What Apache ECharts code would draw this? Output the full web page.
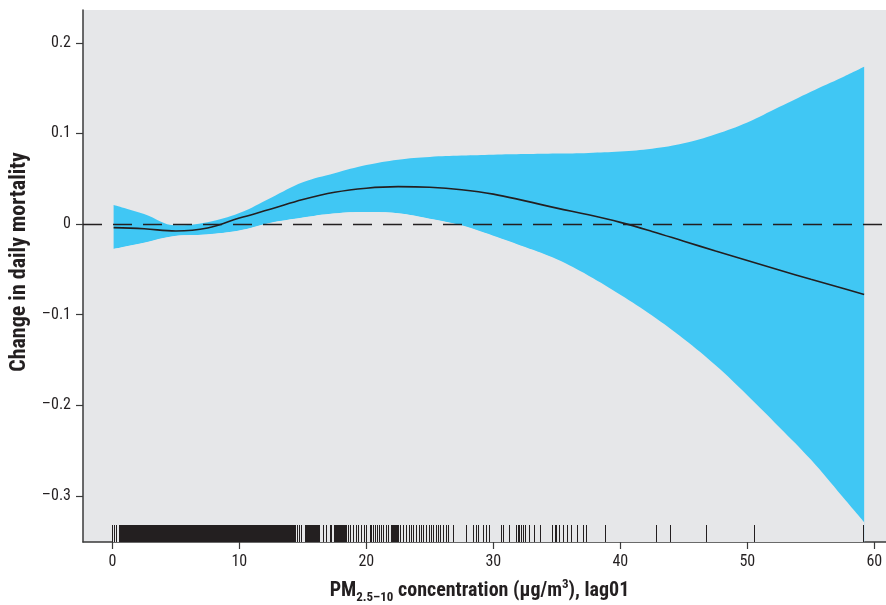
<!DOCTYPE html>
<html>
<head>
<meta charset="utf-8">
<script src="https://cdn.jsdelivr.net/npm/echarts@6/dist/echarts.min.js"></script>
<style>
html,body{margin:0;padding:0;background:#fff;}
#chart{width:886px;height:605px;}
</style>
</head>
<body>
<div id="chart"></div>
<script>
// PM2.5-10 concentration grid (x)
const concentration = [0.1, 2.5, 5, 7.5, 10, 12.5, 15, 17.5, 20, 22.5, 25, 27.5, 30, 32.5, 35, 37.5, 40, 42.5, 45, 47.5, 50, 52.5, 55, 57.5, 59.2];
// fitted change in daily mortality
const fitValues = [-0.004, -0.0053, -0.0078, -0.0045, 0.0065, 0.0165, 0.027, 0.035, 0.0395, 0.0412, 0.0405, 0.0378, 0.033, 0.0255, 0.0175, 0.0102, 0.0018, -0.0082, -0.019, -0.0298, -0.0404, -0.0508, -0.061, -0.071, -0.0778];
// upper confidence bound
const upperValues = [0.021, 0.011, -0.0015, 0.002, 0.012, 0.029, 0.046, 0.056, 0.065, 0.071, 0.074, 0.0755, 0.0765, 0.0772, 0.0778, 0.0785, 0.080, 0.083, 0.089, 0.099, 0.112, 0.129, 0.146, 0.162, 0.1735];
// lower confidence bound
const lowerValues = [-0.0278, -0.021, -0.0132, -0.0115, -0.0075, 0.001, 0.0068, 0.0115, 0.0132, 0.0118, 0.0058, -0.0015, -0.013, -0.0255, -0.039, -0.057, -0.078, -0.101, -0.127, -0.156, -0.189, -0.224, -0.26, -0.301, -0.329];
// observed concentrations (rug)
const rugValues = [0.0, 0.16, 0.35,
 0.6, 0.65, 0.7, 0.75, 0.8, 0.85, 0.9, 0.95,
 1.0, 1.05, 1.1, 1.15, 1.2, 1.25, 1.3, 1.35, 1.4, 1.45, 1.5, 1.55, 1.6, 1.65, 1.7, 1.75, 1.8, 1.85, 1.9, 1.95,
 2.0, 2.05, 2.1, 2.15, 2.2, 2.25, 2.3, 2.35, 2.4, 2.45, 2.5, 2.55, 2.6, 2.65, 2.7, 2.75, 2.8, 2.85, 2.9, 2.95,
 3.0, 3.05, 3.1, 3.15, 3.2, 3.25, 3.3, 3.35, 3.4, 3.45, 3.5, 3.55, 3.6, 3.65, 3.7, 3.75, 3.8, 3.85, 3.9, 3.95,
 4.0, 4.05, 4.1, 4.15, 4.2, 4.25, 4.3, 4.35, 4.4, 4.45, 4.5, 4.55, 4.6, 4.65, 4.7, 4.75, 4.8, 4.85, 4.9, 4.95,
 5.0, 5.05, 5.1, 5.15, 5.2, 5.25, 5.3, 5.35, 5.4, 5.45, 5.5, 5.55, 5.6, 5.65, 5.7, 5.75, 5.8, 5.85, 5.9, 5.95,
 6.0, 6.05, 6.1, 6.15, 6.2, 6.25, 6.3, 6.35, 6.4, 6.45, 6.5, 6.55, 6.6, 6.65, 6.7, 6.75, 6.8, 6.85, 6.9, 6.95,
 7.0, 7.05, 7.1, 7.15, 7.2, 7.25, 7.3, 7.35, 7.4, 7.45, 7.5, 7.55, 7.6, 7.65, 7.7, 7.75, 7.8, 7.85, 7.9, 7.95,
 8.0, 8.05, 8.1, 8.15, 8.2, 8.25, 8.3, 8.35, 8.4, 8.45, 8.5, 8.55, 8.6, 8.65, 8.7, 8.75, 8.8, 8.85, 8.9, 8.95,
 9.0, 9.05, 9.1, 9.15, 9.2, 9.25, 9.3, 9.35, 9.4, 9.45, 9.5, 9.55, 9.6, 9.65, 9.7, 9.75, 9.8, 9.85, 9.9, 9.95,
 10.0, 10.05, 10.1, 10.15, 10.2, 10.25, 10.3, 10.35, 10.4, 10.45, 10.5, 10.55, 10.6, 10.65, 10.7, 10.75, 10.8, 10.85, 10.9, 10.95,
 11.0, 11.05, 11.1, 11.15, 11.2, 11.25, 11.3, 11.35, 11.4, 11.45, 11.5, 11.55, 11.6, 11.65, 11.7, 11.75, 11.8, 11.85, 11.9, 11.95,
 12.0, 12.05, 12.1, 12.15, 12.2, 12.25, 12.3, 12.35, 12.4, 12.45, 12.5, 12.55, 12.6, 12.65, 12.7, 12.75, 12.8, 12.85, 12.9, 12.95,
 13.0, 13.05, 13.1, 13.15, 13.2, 13.25, 13.3, 13.35, 13.4, 13.45, 13.5, 13.55, 13.6, 13.65, 13.7, 13.75, 13.8, 13.85, 13.9, 13.95,
 14.0, 14.05, 14.1, 14.15, 14.2, 14.25, 14.3, 14.35, 14.4,
 14.57, 14.72, 14.91, 15.2, 15.25, 15.3, 15.35, 15.4, 15.45, 15.5, 15.55, 15.6, 15.65, 15.7, 15.75, 15.8, 15.85, 15.9, 15.95, 16.0, 16.05, 16.1, 16.15, 16.2,
 16.35, 16.6, 16.88, 17.14, 17.27, 17.46, 17.6, 17.65, 17.7, 17.75, 17.8, 17.85, 17.9, 17.95, 18.0, 18.05, 18.1, 18.15, 18.2, 18.25, 18.3, 18.35, 18.4,
 18.58, 18.77, 18.98, 19.24, 19.37, 19.64, 19.82, 20.03, 20.29, 20.43, 20.55, 20.69, 20.87, 21.02, 21.21, 21.34, 21.61, 21.73,
 22.0, 22.05, 22.1, 22.15, 22.2, 22.25, 22.3, 22.35, 22.4, 22.45, 22.5, 22.71, 22.91, 23.18, 23.39, 23.57, 23.7, 23.97, 24.17, 24.36, 24.54, 24.76, 24.96,
 25.15, 25.28, 25.54, 25.67, 25.86, 26.06, 26.28, 26.46, 26.85, 27.85, 28.43, 28.64, 28.82, 29.21, 29.43, 29.69,
 30.66, 30.84, 31.31, 31.84, 31.97, 32.1, 32.24, 32.36, 32.5, 32.83, 33.28, 33.68, 34.68, 34.86, 35.0, 35.25, 35.51, 35.83,
 36.17, 36.61, 37.09, 37.3, 38.87, 42.87, 43.94, 46.75, 50.6, 59.13];
const xTicks = [0, 10, 20, 30, 40, 50, 60];
const yTicks = [-0.3, -0.2, -0.1, 0, 0.1, 0.2];

const X_MIN = -2.31, X_MAX = 60.92, Y_MIN = -0.351, Y_MAX = 0.2362;
const FONT = "'Liberation Sans Narrow', 'Roboto Condensed', 'DejaVu Sans Condensed', 'Liberation Sans', sans-serif";
const INK = '#231f20';
const PANEL = '#e6e7e9';

const pairs = (xs, ys) => xs.map((x, i) => [x, ys[i]]);

const chart = echarts.init(document.getElementById('chart'), null, {renderer: 'canvas'});
chart.setOption({
  animation: false,
  backgroundColor: '#ffffff',
  grid: {left: 83, top: 10, right: 0, bottom: 63, containLabel: false, outerBoundsMode: 'none',
    show: true, backgroundColor: PANEL, borderWidth: 0},
  xAxis: {
    type: 'value', min: X_MIN, max: X_MAX,
    name: '{b|PM}{sub|2.5–10}{b| concentration (μg/m}{sup|3}{b|), lag01}',
    nameLocation: 'middle', nameGap: 36,
    nameTextStyle: {
      fontFamily: FONT, color: INK, padding: [0, 10, 0, 0],
      rich: {
        b: {fontSize: 20, fontWeight: 'bold', fontFamily: FONT, color: INK, lineHeight: 26},
        sub: {fontSize: 13, fontWeight: 'bold', fontFamily: FONT, color: INK, lineHeight: 13, verticalAlign: 'bottom'},
        sup: {fontSize: 13, fontWeight: 'bold', fontFamily: FONT, color: INK, lineHeight: 20, verticalAlign: 'top'}
      }
    },
    axisLine: {show: true, onZero: false, lineStyle: {color: '#3a3a3a', width: 1.5}},
    axisTick: {show: true, length: 7, customValues: xTicks, lineStyle: {color: '#3a3a3a', width: 1.2}},
    axisLabel: {show: true, customValues: xTicks, margin: 12, fontSize: 16, fontFamily: FONT, color: INK},
    splitLine: {show: false}
  },
  yAxis: {
    type: 'value', min: Y_MIN, max: Y_MAX,
    name: 'Change in daily mortality',
    nameLocation: 'middle', nameRotate: 90, nameGap: 52,
    nameTextStyle: {fontSize: 22, fontWeight: 'bold', fontFamily: FONT, color: INK, padding: [0, 0, 0, 28]},
    axisLine: {show: true, onZero: false, lineStyle: {color: '#3a3a3a', width: 1.5}},
    axisTick: {show: true, length: 7, customValues: yTicks, lineStyle: {color: '#3a3a3a', width: 1.2}},
    axisLabel: {show: true, customValues: yTicks, margin: 12, fontSize: 16, fontFamily: FONT, color: INK,
      formatter: v => (Math.abs(v) < 1e-9 ? '0' : String(+v.toFixed(1)).replace('-', '–'))},
    splitLine: {show: false}
  },
  series: [
    {
      name: 'upper', type: 'line', data: pairs(concentration, upperValues),
      smooth: 0.4, symbol: 'none', z: 1, silent: true,
      lineStyle: {opacity: 0},
      areaStyle: {color: '#40c7f4', opacity: 1, origin: 'start'}
    },
    {
      name: 'lower', type: 'line', data: pairs(concentration, lowerValues),
      smooth: 0.4, symbol: 'none', z: 2, silent: true,
      lineStyle: {opacity: 0},
      areaStyle: {color: PANEL, opacity: 1, origin: 'start',
        shadowColor: PANEL, shadowBlur: 0, shadowOffsetX: -1.5, shadowOffsetY: 0}
    },
    {
      name: 'fit', type: 'line', data: pairs(concentration, fitValues),
      smooth: 0.4, symbol: 'none', z: 3,
      lineStyle: {color: INK, width: 1.6},
      markLine: {
        silent: true, symbol: 'none', animation: false,
        label: {show: false},
        lineStyle: {color: INK, width: 1.3, type: [19, 11]},
        data: [{yAxis: 0}]
      }
    },
    {
      name: 'rug', type: 'custom', z: 4, silent: true,
      data: rugValues.map(v => [v, Y_MIN]),
      encode: {x: 0, y: 1},
      renderItem: (params, api) => {
        const p = api.coord([api.value(0), Y_MIN]);
        const px = Math.round(p[0] - 0.5) + 0.5;
        return {type: 'line', shape: {x1: px, y1: p[1], x2: px, y2: p[1] - 17},
          style: {stroke: INK, lineWidth: 1}};
      }
    }
  ]
});
</script>
</body>
</html>
